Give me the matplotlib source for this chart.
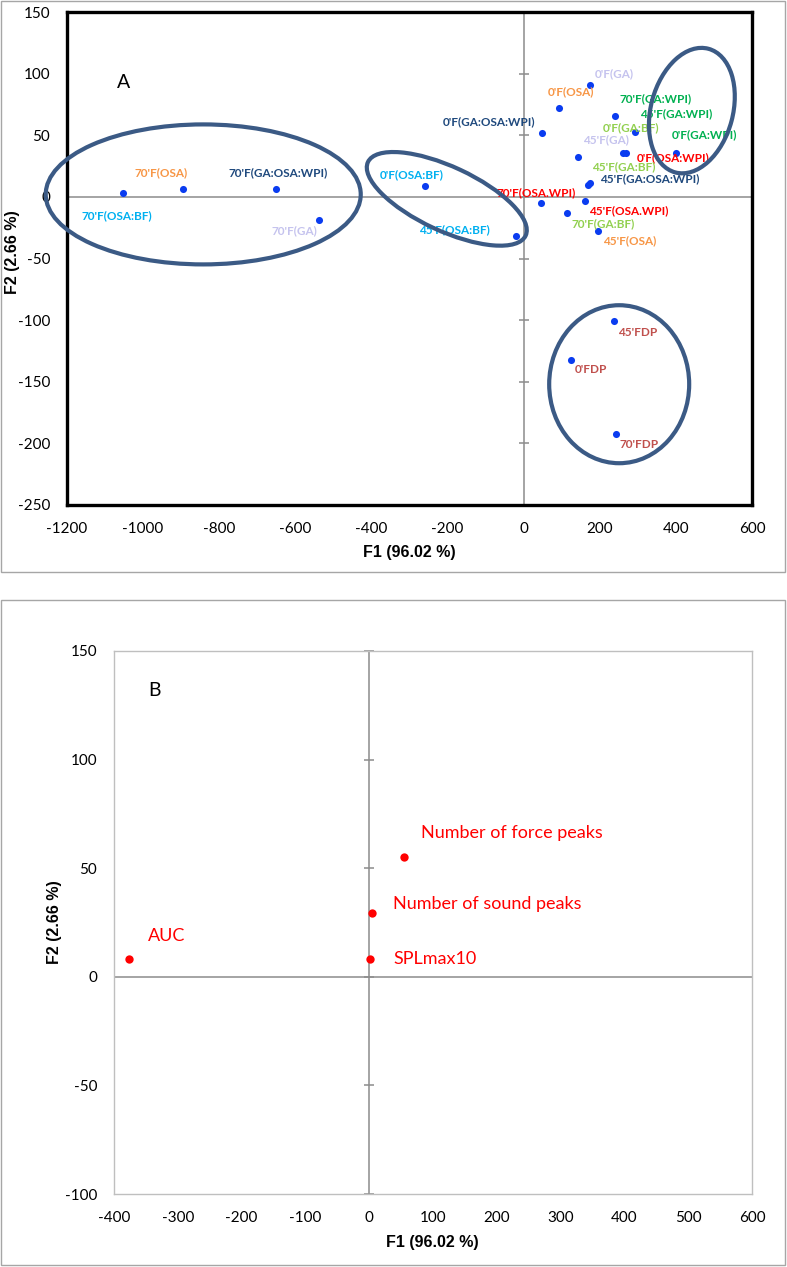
import numpy as np
import matplotlib
matplotlib.use('Agg')
import matplotlib.pyplot as plt
from matplotlib.patches import Ellipse, Rectangle
from matplotlib.transforms import ScaledTranslation

plt.rcParams['axes.unicode_minus'] = False

W, H = 787, 1267

# ---- Panel A: observations (F1, F2 scores) ----
obs_f1 = [175, 92, 240, 49, 144, 261, 270, 401, 292, 169, 173, 45, 161, 114,
          196, -19, -1053, -896, -650, -537, -260, 238, 124, 243]
obs_f2 = [91, 72, 66, 52, 32, 36, 36, 36, 53, 10, 11, -5, -3.5, -13,
          -28, -32, 3, 6, 6.5, -19, 9, -101, -132, -192]

# point labels (text, colour, anchor in F1/F2 units)
lab_text = ["0'F(GA)", "0'F(OSA)", "0'F(GA:OSA:WPI)", "70'F(GA:WPI)",
            "45'F(GA:WPI)", "0'F(GA:BF)", "0'F(GA:WPI)", "45'F(GA)",
            "0'F(OSA:WPI)", "45'F(GA:BF)", "45'F(GA:OSA:WPI)", "70'F(OSA.WPI)",
            "45'F(OSA.WPI)", "70'F(GA:BF)", "45'F(OSA)", "70'F(OSA:BF)",
            "70'F(OSA)", "70'F(GA:OSA:WPI)", "70'F(GA)", "0'F(OSA:BF)",
            "45'F(OSA:BF)", "45'FDP", "0'FDP", "70'FDP"]
lab_col = ['#C5C3EE', '#F79646', '#1F497D', '#00B050',
           '#00B050', '#92D050', '#00B050', '#C5C3EE',
           '#FF0000', '#92D050', '#1F497D', '#FF0000',
           '#FF0000', '#92D050', '#F79646', '#00B0F0',
           '#F79646', '#1F497D', '#C5C3EE', '#00B0F0',
           '#00B0F0', '#C0504D', '#C0504D', '#C0504D']
lab_x = [186, 63, -213, 252, 305, 208, 389, 155, 297, 179, 200, -72,
         171, 126, 208, -1161, -1022, -775, -662, -378, -276, 247, 134, 252]
lab_y = [100, 85.5, 61, 80, 67.7, 56.5, 50.8, 46, 31.7, 24.2, 14.5, 3.2,
         -11.3, -21.5, -35.5, -15.3, 19.6, 20, -27.4, 17.7, -26.6, -109.7,
         -140, -200.8]

# group rings: centre (F1, F2), width/height in inches, angle
ring_cx = [-842, -202, 442, 251]
ring_cy = [2, -1.6, 70, -152]
ring_w = [3.15, 1.74, 1.28, 1.40]
ring_h = [1.40, 0.64, 0.82, 1.58]
ring_a = [0, -25, 75, 0]

a_xticks = np.arange(-1200, 601, 200)
a_yticks = np.arange(-250, 151, 50)

# ---- Panel B: variables ----
var_names = ['AUC', 'SPLmax10', 'Number of sound peaks', 'Number of force peaks']
var_f1 = [-376, 1, 4, 54]
var_f2 = [8.4, 8, 29.6, 55]
var_lx = [-347, 38, 37.6, 81.6]
var_ly = [19, 8, 33.6, 66.3]

b_xticks = np.arange(-400, 601, 100)
b_yticks = np.arange(-100, 151, 50)

TICKFONT = ['Lato', 'DejaVu Sans']
LABFONT = ['Lato', 'DejaVu Sans']


def fx(px):
    return px / W


def fy(py):
    return 1 - py / H


fig = plt.figure(figsize=(W / 100, H / 100), dpi=100)

# panel frames
fig.add_artist(Rectangle((fx(1), fy(572)), fx(784), 571 / H, transform=fig.transFigure,
                         fill=False, ec='#A6A6A6', lw=1))
fig.add_artist(Rectangle((fx(1), fy(1265)), fx(784), 665 / H, transform=fig.transFigure,
                         fill=False, ec='#A6A6A6', lw=1))

# ================= Panel A =================
axA = fig.add_axes([fx(67), fy(505), fx(752 - 67), 493 / H])
axA.set_xlim(-1200, 600)
axA.set_ylim(-250, 150)
for s in axA.spines.values():
    s.set_linewidth(2.4)
    s.set_color('black')
axA.axhline(0, color='#8C8C8C', lw=1.1, zorder=1)
axA.axvline(0, color='#8C8C8C', lw=1.1, zorder=1)
axA.plot(np.zeros(len(a_yticks)), a_yticks, ls='none', marker='_', ms=7,
         mew=1.1, color='#8C8C8C', zorder=1, clip_on=False)
axA.set_xticks(a_xticks)
axA.set_yticks(a_yticks)
axA.tick_params(length=0, pad=12, labelsize=11)
for t in axA.get_xticklabels() + axA.get_yticklabels():
    t.set_family(TICKFONT)

axA.scatter(obs_f1, obs_f2, s=26, color='#0A3CF0', zorder=3, linewidths=0)
for t, c, x, y in zip(lab_text, lab_col, lab_x, lab_y):
    axA.text(x, y, t, color=c, fontsize=8.5, fontweight='bold', family=LABFONT,
             ha='left', va='center', zorder=4)

for cx, cy, w, h, a in zip(ring_cx, ring_cy, ring_w, ring_h, ring_a):
    e = Ellipse((0, 0), w, h, angle=a, fill=False, ec='#3B5A85', lw=3,
                transform=fig.dpi_scale_trans + ScaledTranslation(cx, cy, axA.transData),
                zorder=5, clip_on=False)
    axA.add_patch(e)

axA.text(-1051, 93, 'A', fontsize=14, family=LABFONT, ha='center', va='center')

fig.text(fx(409), fy(552), 'F1 (96.02 %)', fontsize=11.5, fontweight='bold',
         family=['Liberation Sans', 'DejaVu Sans'], ha='center', va='center')
fig.text(fx(13), fy(252), 'F2 (2.66 %)', fontsize=11.5, fontweight='bold', rotation=90,
         family=['Liberation Sans', 'DejaVu Sans'], ha='center', va='center')

# ================= Panel B =================
axB = fig.add_axes([fx(114), fy(1194), fx(752 - 114), 543 / H])
axB.set_xlim(-400, 600)
axB.set_ylim(-100, 150)
for s in axB.spines.values():
    s.set_linewidth(1)
    s.set_color('#BFBFBF')
axB.axhline(0, color='#8C8C8C', lw=1.1, zorder=1)
axB.axvline(0, color='#8C8C8C', lw=1.1, zorder=1)
axB.plot(np.zeros(len(b_yticks)), b_yticks, ls='none', marker='_', ms=7,
         mew=1.1, color='#8C8C8C', zorder=1, clip_on=False)
axB.set_xticks(b_xticks)
axB.set_yticks(b_yticks)
axB.tick_params(length=0, pad=12, labelsize=11)
for t in axB.get_xticklabels() + axB.get_yticklabels():
    t.set_family(TICKFONT)

axB.scatter(var_f1, var_f2, s=36, color='#FF0000', zorder=3, linewidths=0)
for t, x, y in zip(var_names, var_lx, var_ly):
    axB.text(x, y, t, color='#FF0000', fontsize=13, family=LABFONT,
             ha='left', va='center')

axB.text(-336, 132, 'B', fontsize=14, family=LABFONT, ha='center', va='center')

fig.text(fx(432), fy(1243), 'F1 (96.02 %)', fontsize=11.5, fontweight='bold',
         family=['Liberation Sans', 'DejaVu Sans'], ha='center', va='center')
fig.text(fx(55), fy(922), 'F2 (2.66 %)', fontsize=11.5, fontweight='bold', rotation=90,
         family=['Liberation Sans', 'DejaVu Sans'], ha='center', va='center')

fig.savefig('out.png', dpi=100)
